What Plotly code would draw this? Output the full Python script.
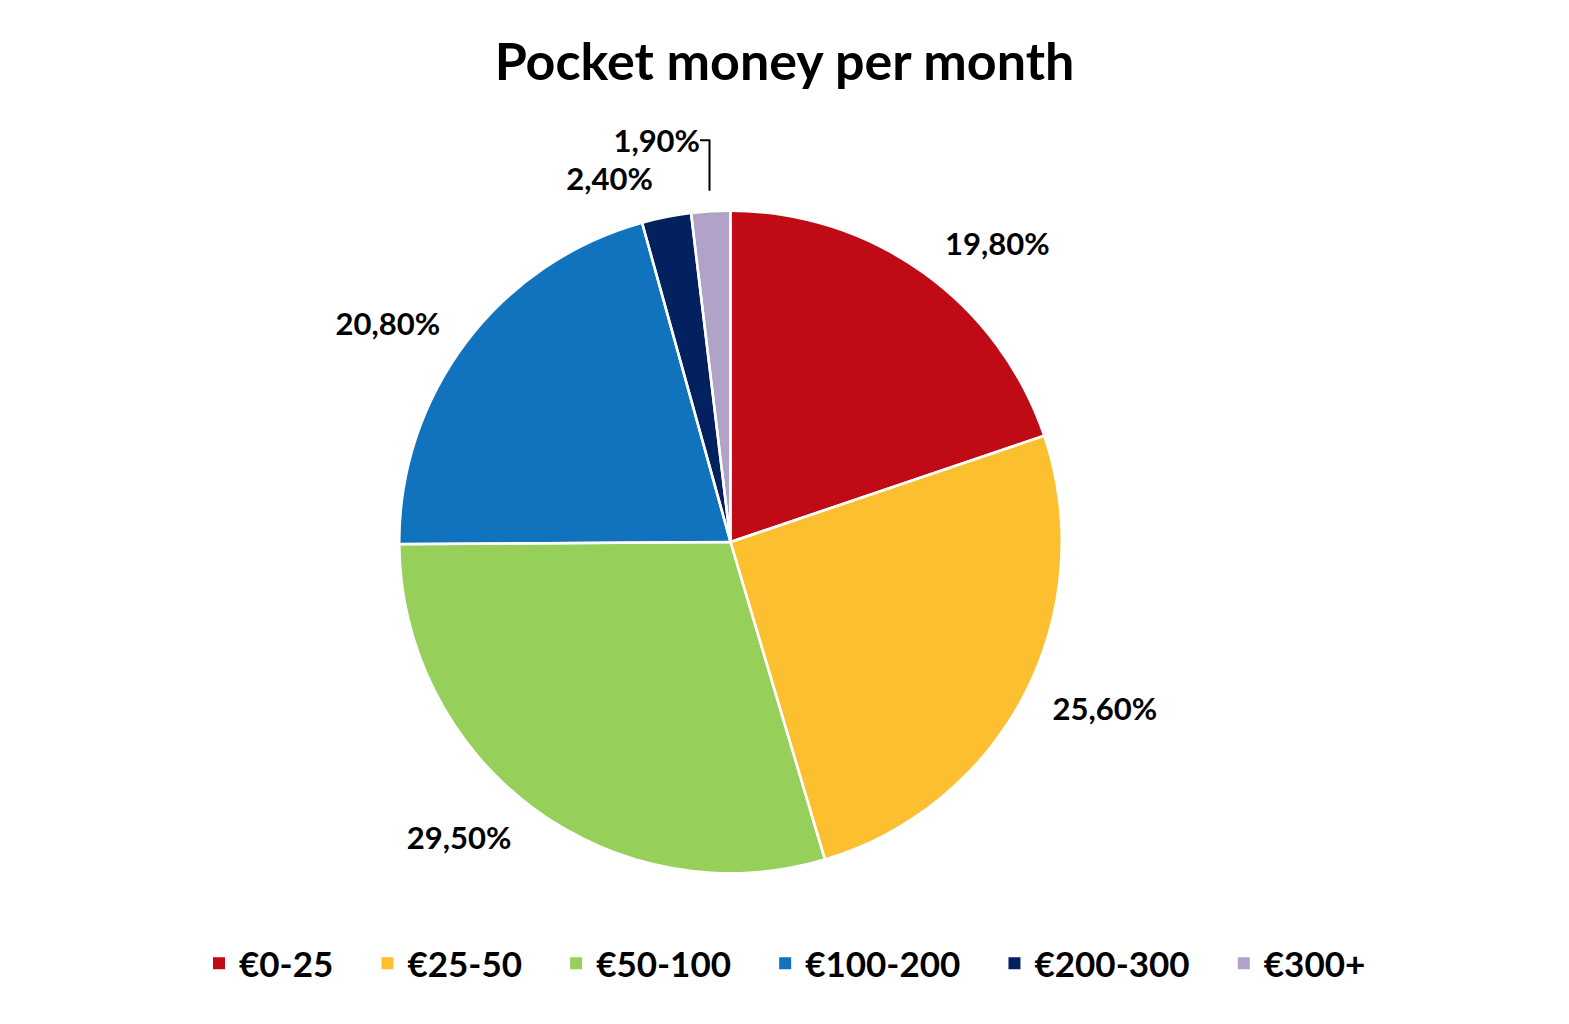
import plotly.graph_objects as go

categories = ["€0-25", "€25-50", "€50-100", "€100-200", "€200-300", "€300+"]
values = [19.8, 25.6, 29.5, 20.8, 2.4, 1.9]
text_labels = ["19,80%", "25,60%", "29,50%", "20,80%", "2,40%", "1,90%"]
colors = ["#C00A16", "#FBBF2F", "#96CF5A", "#1172BE", "#03215E", "#B1A2C8"]

W, H = 1569, 1024
T, B = 140, 110
ph = H - T - B
cx, cy, r = 730.5, 542, 330
r_lab = 352

legend_names = [c + "\u2002\u2004" for c in categories]

fig = go.Figure()
# visible pie (no outline so legend squares stay full size)
fig.add_trace(go.Pie(
    labels=legend_names,
    values=values,
    textinfo="none",
    sort=False,
    direction="clockwise",
    rotation=0,
    marker=dict(colors=colors, line=dict(width=0)),
    domain=dict(x=[(cx - r) / W, (cx + r) / W],
                y=[(H - B - (cy + r)) / ph, (H - B - (cy - r)) / ph]),
    hoverinfo="label+percent",
))
# transparent overlay pie: white slice separators + outside labels
fig.add_trace(go.Pie(
    labels=legend_names,
    values=values,
    text=text_labels,
    textinfo="text",
    textposition="outside",
    sort=False,
    direction="clockwise",
    rotation=0,
    showlegend=False,
    marker=dict(colors=["rgba(0,0,0,0)"] * len(values),
                line=dict(color="white", width=2.5)),
    outsidetextfont=dict(family="Lato", size=31, color="black", weight="bold"),
    domain=dict(x=[(cx - r_lab) / W, (cx + r_lab) / W],
                y=[(H - B - (cy + r_lab)) / ph, (H - B - (cy - r_lab)) / ph]),
    hoverinfo="skip",
))

fig.update_layout(
    width=W, height=H,
    paper_bgcolor="white", plot_bgcolor="white",
    margin=dict(l=0, r=0, t=T, b=B),
    title=dict(text="<b>Pocket money per month</b>", x=0.5, xanchor="center",
               y=0.94, yanchor="middle",
               font=dict(family="Lato", size=52, color="black")),
    legend=dict(orientation="h", x=0.5 + 15 / W, xanchor="center",
                y=-(934 - (H - B)) / ph, yanchor="top",
                font=dict(family="Lato", size=35, color="black", weight="bold"),
                itemwidth=30, tracegroupgap=0),
    showlegend=True,
)

fig.write_html("out.html")
